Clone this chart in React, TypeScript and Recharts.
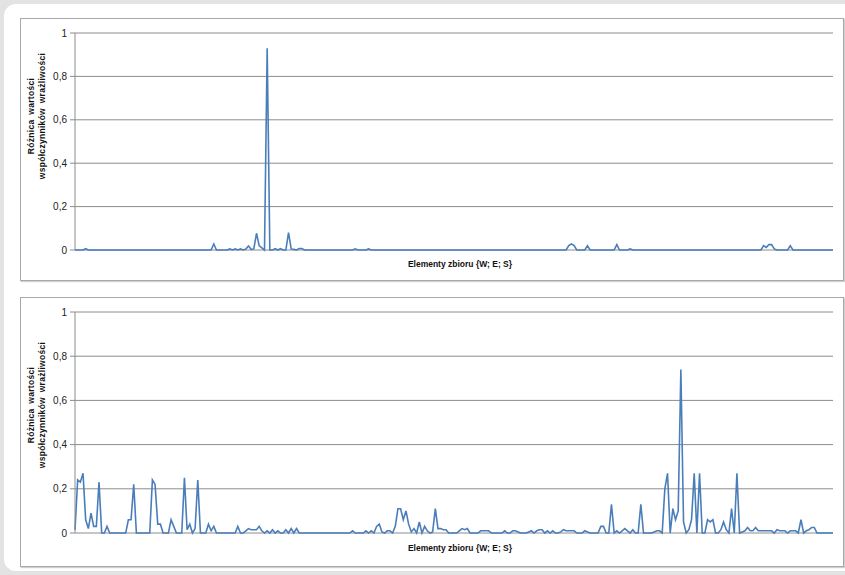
import React from "react";
import { LineChart, Line, XAxis, YAxis, CartesianGrid } from "recharts";

// Y tick values (both charts)
const yTicks = [0, 0.2, 0.4, 0.6, 0.8, 1];

// Axis titles
const yTitleLine1 = "Różnica wartości";
const yTitleLine2 = "współczynników wrażliwości";
const xTitle = "Elementy zbioru {W; E; S}";

// Top chart series (285 elements)
const topValues: number[] = [
  0, 0, 0, 0, 0.006, 0, 0, 0, 0, 0, 0, 0, 0, 0, 0, 0, 0, 0, 0, 0,
  0, 0, 0, 0, 0, 0, 0, 0, 0, 0, 0, 0, 0, 0, 0, 0, 0, 0, 0, 0,
  0, 0, 0, 0, 0, 0, 0, 0, 0, 0, 0, 0, 0.028, 0, 0, 0, 0, 0, 0.005, 0,
  0.005, 0, 0.005, 0, 0.004, 0.018, 0.003, 0.005, 0.077, 0.02, 0.01, 0, 0.93, 0, 0, 0.006, 0, 0.006, 0, 0,
  0.08, 0.005, 0.003, 0, 0.007, 0.007, 0, 0, 0, 0, 0, 0, 0, 0, 0, 0, 0, 0, 0, 0,
  0, 0, 0, 0, 0, 0.005, 0, 0, 0, 0, 0.005, 0, 0, 0, 0, 0, 0, 0, 0, 0,
  0, 0, 0, 0, 0, 0, 0, 0, 0, 0, 0, 0, 0, 0, 0, 0, 0, 0, 0, 0,
  0, 0, 0, 0, 0, 0, 0, 0, 0, 0, 0, 0, 0, 0, 0, 0, 0, 0, 0, 0,
  0, 0, 0, 0, 0, 0, 0, 0, 0, 0, 0, 0, 0, 0, 0, 0, 0, 0, 0, 0,
  0, 0, 0, 0, 0, 0.02, 0.028, 0.02, 0, 0, 0, 0, 0.02, 0, 0, 0, 0, 0, 0, 0,
  0, 0, 0, 0.025, 0, 0, 0, 0, 0.005, 0, 0, 0, 0, 0, 0, 0, 0, 0, 0, 0,
  0, 0, 0, 0, 0, 0, 0, 0, 0, 0, 0, 0, 0, 0, 0, 0, 0, 0, 0, 0,
  0, 0, 0, 0, 0, 0, 0, 0, 0, 0, 0, 0, 0, 0, 0, 0, 0, 0, 0.02, 0.012,
  0.025, 0.025, 0.005, 0, 0, 0, 0, 0, 0.02, 0, 0, 0, 0, 0, 0, 0, 0, 0, 0, 0,
  0, 0, 0, 0, 0,
];

// Bottom chart series (285 elements)
const bottomValues: number[] = [
  0.014, 0.24, 0.23, 0.27, 0.06, 0.02, 0.09, 0.03, 0.03, 0.23, 0, 0, 0.03, 0, 0, 0, 0, 0, 0, 0,
  0.06, 0.06, 0.22, 0, 0, 0, 0, 0, 0, 0.24, 0.22, 0.04, 0.04, 0, 0, 0, 0.06, 0.03, 0, 0,
  0, 0.25, 0.015, 0.04, 0, 0.02, 0.24, 0, 0, 0, 0.04, 0.01, 0.03, 0, 0, 0, 0, 0, 0, 0,
  0, 0.03, 0, 0, 0.01, 0.02, 0.015, 0.015, 0.015, 0.03, 0.01, 0, 0.01, 0, 0.015, 0, 0.01, 0, 0, 0.015,
  0, 0.02, 0, 0.02, 0, 0, 0, 0, 0, 0, 0, 0, 0, 0, 0, 0, 0, 0, 0, 0,
  0, 0, 0, 0, 0.01, 0, 0, 0, 0, 0.01, 0, 0.01, 0, 0.03, 0.04, 0.005, 0, 0.01, 0.01, 0,
  0.03, 0.11, 0.11, 0.06, 0.1, 0.04, 0.005, 0.02, 0, 0.05, 0, 0.03, 0.01, 0, 0.005, 0.11, 0.02, 0.02, 0.015, 0.015,
  0, 0, 0, 0, 0.01, 0.02, 0.015, 0.02, 0, 0, 0, 0, 0.01, 0.01, 0.01, 0.01, 0, 0, 0, 0,
  0, 0.01, 0, 0, 0.01, 0.01, 0.005, 0, 0, 0, 0.005, 0.01, 0, 0.01, 0.015, 0.015, 0, 0.01, 0, 0.01,
  0, 0, 0.005, 0.015, 0.01, 0.01, 0.01, 0.01, 0, 0, 0, 0.01, 0.005, 0, 0, 0, 0, 0.03, 0.03, 0,
  0, 0.13, 0, 0.01, 0, 0.01, 0.02, 0.01, 0, 0.015, 0, 0, 0.13, 0, 0, 0, 0, 0.005, 0.01, 0.01,
  0, 0.2, 0.27, 0, 0.11, 0.06, 0.1, 0.74, 0.05, 0, 0.015, 0.06, 0.27, 0, 0.27, 0, 0, 0.06, 0.05, 0.06,
  0, 0, 0.015, 0.05, 0.015, 0, 0.11, 0, 0.27, 0, 0.005, 0.01, 0.025, 0.01, 0.01, 0.025, 0.01, 0.01, 0.01, 0.01,
  0.01, 0.01, 0, 0.015, 0.01, 0.01, 0.01, 0, 0.01, 0.01, 0.01, 0, 0.06, 0, 0.01, 0.015, 0.025, 0.025, 0, 0,
  0, 0, 0, 0, 0,
];

const topData = topValues.map((v, i) => ({ idx: i + 1, v }));
const bottomData = bottomValues.map((v, i) => ({ idx: i + 1, v }));

const FONT = "'Liberation Sans', Arial, sans-serif";
const GRID = "#8c8c8c";
const LINE = "#4a7ebb";

const fmt = (v: number) => String(v).replace(".", ",");

function Chart({ data, top, height, mTop, mBottom }: { data: { idx: number; v: number }[]; top: number; height: number; mTop: number; mBottom: number }) {
  return (
    <div style={{ position: "absolute", left: 0, top, width: 845, height }}>
      <LineChart width={845} height={height} data={data} margin={{ top: mTop, right: 12, bottom: mBottom, left: 15 }}>
        <CartesianGrid vertical={false} stroke={GRID} strokeWidth={1} />
        <XAxis dataKey="idx" hide />
        <YAxis
          width={60}
          domain={[0, 1]}
          ticks={yTicks}
          tickFormatter={fmt}
          axisLine={{ stroke: GRID }}
          tickLine={{ stroke: GRID }}
          tickSize={5}
          tickMargin={3}
          tick={{ fontSize: 10, fill: "#222", fontFamily: FONT }}
          interval={0}
        />
        <Line type="linear" dataKey="v" stroke={LINE} strokeWidth={1.6} dot={false} isAnimationActive={false} />
      </LineChart>
    </div>
  );
}

function YTitle({ cy }: { cy: number }) {
  return (
    <div
      style={{
        position: "absolute",
        left: 38 - 100,
        top: cy - 12,
        width: 200,
        height: 24,
        transform: "rotate(-90deg)",
        textAlign: "center",
        fontFamily: FONT,
        fontWeight: "bold",
        fontSize: 8.5,
        lineHeight: "11px",
        color: "#111",
        whiteSpace: "nowrap",
        letterSpacing: 0.3,
        wordSpacing: 2,
      }}
    >
      <div>{yTitleLine1}</div>
      <div>{yTitleLine2}</div>
    </div>
  );
}

function XTitle({ y }: { y: number }) {
  return (
    <div
      style={{
        position: "absolute",
        left: 360,
        top: y,
        width: 200,
        textAlign: "center",
        fontFamily: FONT,
        fontWeight: "bold",
        fontSize: 8.5,
        color: "#111",
        whiteSpace: "nowrap",
      }}
    >
      {xTitle}
    </div>
  );
}

export default function App() {
  return (
    <div style={{ position: "absolute", left: 0, top: 0, width: 845, height: 575, background: "#e3e3e3", overflow: "hidden" }}>
      <div style={{ position: "absolute", left: 4, top: 4, width: 860, height: 567, background: "#fff", borderRadius: 12 }} />
      <div style={{ position: "absolute", left: 20, top: 18, width: 822, height: 261, border: "1px solid #a8a8a8", boxShadow: "1px 1px 1px #d0d0d0", background: "#fff" }} />
      <div style={{ position: "absolute", left: 20, top: 297, width: 822, height: 268, border: "1px solid #a8a8a8", boxShadow: "1px 1px 1px #d0d0d0", background: "#fff" }} />
      <Chart data={topData} top={0} height={280} mTop={33} mBottom={30} />
      <Chart data={bottomData} top={290} height={285} mTop={22} mBottom={42} />
      <YTitle cy={116} />
      <YTitle cy={405} />
      <XTitle y={259} />
      <XTitle y={543} />
    </div>
  );
}
